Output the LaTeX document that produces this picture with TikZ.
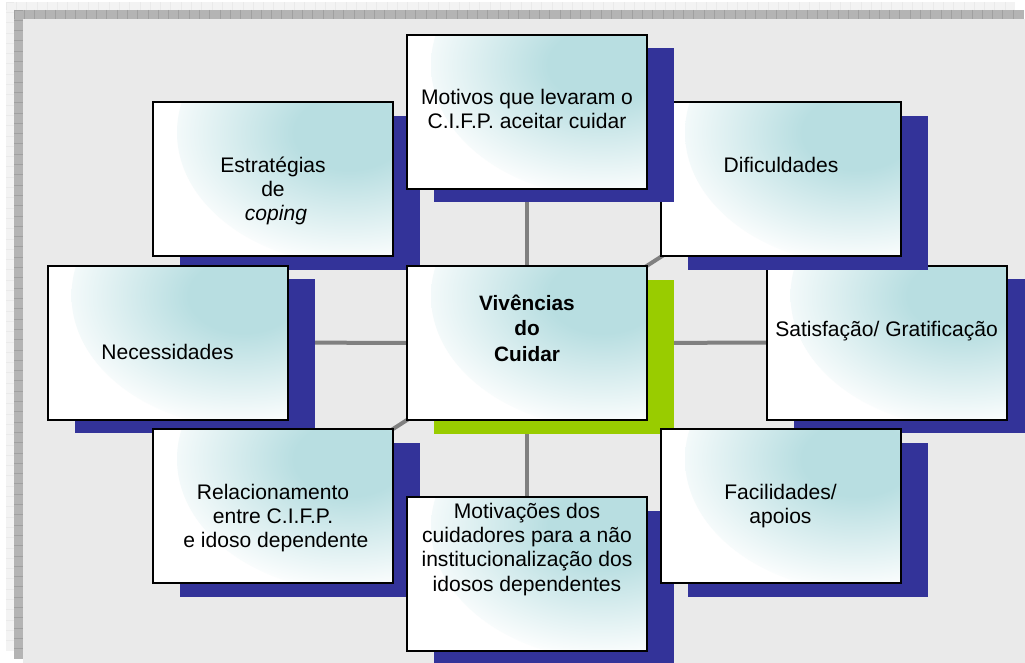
\documentclass[tikz,border=0pt]{standalone}
\usepackage{fontspec}
\setmainfont{Liberation Sans}
\usetikzlibrary{calc}
\definecolor{glow}{RGB}{184,222,225}
\definecolor{shblue}{RGB}{51,51,153}
\definecolor{shgreen}{RGB}{153,204,0}
\definecolor{bgfill}{RGB}{234,234,234}
\definecolor{bandD}{RGB}{180,180,180}
\definecolor{bandDline}{RGB}{160,160,160}
\definecolor{bandL}{RGB}{243,243,243}
\definecolor{bandLline}{RGB}{234,234,234}
\definecolor{connc}{RGB}{128,128,128}
\pgfdeclareradialshading{boxglow}{\pgfpointorigin}{color(0bp)=(glow); color(7bp)=(glow); color(25bp)=(white); color(50bp)=(white)}
\pgfdeclarelayer{back}
\pgfsetlayers{back,main}
\newcommand\firststrut{\rule{0pt}{15pt}}
\newcommand\placebox[3][shblue]{%
  \fill[#1] ($(#3)+(-93,-63.5)$) rectangle ($(#3)+(147,90.5)$);
  \node[cbox] (#2) at (#3) {};
}
\tikzset{
  cbox/.style={draw=black, line width=1.5pt, fill=white,
    minimum width=180pt, minimum height=115.5pt, inner sep=0pt,
    path picture={\shade[shading=boxglow] ([shift={(-32,30)}]path picture bounding box.north east) ellipse [x radius=138pt, y radius=100pt];}},
  txt/.style={inner sep=0pt, anchor=north, align=center, text=black,
    font={\fontsize{15.8pt}{18.2pt}\selectfont\lineskiplimit=-100pt}},
  txtb/.style={txt, font={\fontsize{15.6pt}{19.1pt}\selectfont\bfseries\lineskiplimit=-100pt}},
  connline/.style={draw=connc, line width=3pt}
}
\begin{document}
\begin{tikzpicture}[x=0.75pt,y=-0.75pt]
\useasboundingbox (0,0) rectangle (1025,663);
\begin{pgfonlayer}{back}
  \fill[bandL] (6,2) rectangle (1015,651);
  \foreach \i in {0,...,97} {\draw[bandLline, line width=0.5pt] (6+\i*10.3,2) -- (6+\i*10.3,10);}
  \foreach \i in {0,...,62} {\draw[bandLline, line width=0.5pt] (6,2+\i*10.3) -- (14,2+\i*10.3);}
  \fill[bandD] (14,10) rectangle (1024,659);
  \foreach \i in {0,...,97} {\draw[bandDline, line width=0.6pt] (14+\i*10.3,10) -- (14+\i*10.3,19);}
  \foreach \i in {0,...,62} {\draw[bandDline, line width=0.6pt] (14,10+\i*10.3) -- (23,10+\i*10.3);}
  \fill[bgfill] (23,19) rectangle (1025,663);
\end{pgfonlayer}

\placebox{s}{886.5,342.5}
\placebox{d}{781,179.5}
\placebox{e}{273,179.5}
\placebox{m}{527,112}
\placebox{n}{167.5,342.5}
\placebox[shgreen]{c}{527,343}
\placebox{r}{273,506}
\placebox{v}{527,574}
\placebox{f}{781,506}

\node[txt] (tm) at (527,84) {\firststrut Motivos que levaram o\\C.I.F.P. aceitar cuidar};
\node[txt] (te) at (273,152) {\firststrut Estratégias\\de\\\hspace*{0.28em}\textit{coping}};
\node[txt] (td) at (781,152) {\firststrut Dificuldades};
\node[txt] (tn) at (167.5,339) {\firststrut Necessidades};
\node[txtb] (tc) at (527,290) {\firststrut Vivências\\do\\Cuidar};
\node[txt] (ts) at (886.5,316) {\firststrut Satisfação/ Gratificação};
\node[txt] (tr) at (273,479) {\firststrut Relacionamento\\entre C.I.F.P.\\\hspace*{0.28em}e idoso dependente};
\node[txt] (tf) at (780.5,479) {\firststrut Facilidades/\\apoios};
\node[txt] (tv) at (527,498) {\firststrut Motivações dos\\cuidadores para a não\\institucionalização dos\\idosos dependentes};

\begin{pgfonlayer}{back}
  \draw[connline] (c.center) -- (m.center);
  \draw[connline] (c.center) -- (v.center);
  \draw[connline] (c.center) -- (n.center);
  \draw[connline] (c.center) -- (s.center);
  \draw[connline] (c.center) -- (e.center);
  \draw[connline] (c.center) -- (d.center);
  \draw[connline] (c.center) -- (r.center);
  \draw[connline] (c.center) -- (f.center);
\end{pgfonlayer}
\end{tikzpicture}
\end{document}
